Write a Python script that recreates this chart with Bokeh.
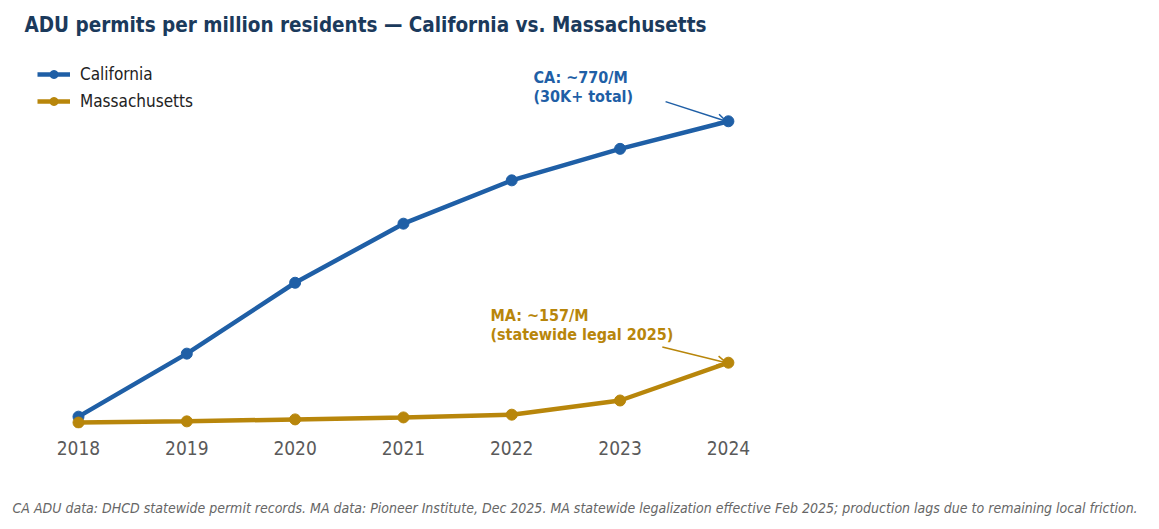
from bokeh.plotting import figure
from bokeh.models import Range1d, FixedTicker, Title, Arrow, OpenHead, Label, Legend, LegendItem
from bokeh.embed import file_html
from bokeh.resources import INLINE

years = [2018, 2019, 2020, 2021, 2022, 2023, 2024]
california = [20, 180, 360, 510, 620, 700, 770]
massachusetts = [5, 8, 13, 18, 25, 61, 157]
tick_labels = {y: str(y) for y in years}

CA_COLOR = "#1f5fa6"
MA_COLOR = "#b8860b"
COND = "DejaVu Sans Condensed"

p = figure(width=1159, height=529, output_backend="svg", toolbar_location=None,
           x_range=Range1d(2017.28, 2027.98), y_range=Range1d(-10.1, 980.2),
           min_border_left=0, min_border_right=0, min_border_top=38, min_border_bottom=0)

p.title.text = "ADU permits per million residents \u2014 California vs. Massachusetts"
p.title.text_font = COND
p.title.text_font_size = "20.5px"
p.title.text_font_style = "bold"
p.title.text_color = "#1b3a5c"
p.title.offset = 24
p.title.standoff = 3

r1 = p.line(years, california, line_color=CA_COLOR, line_width=4.5)
c1 = p.scatter(years, california, size=11, fill_color=CA_COLOR, line_color=CA_COLOR)
r2 = p.line(years, massachusetts, line_color=MA_COLOR, line_width=4.5)
c2 = p.scatter(years, massachusetts, size=11, fill_color=MA_COLOR, line_color=MA_COLOR)

legend = Legend(items=[LegendItem(label="California", renderers=[r1, c1]),
                       LegendItem(label="Massachusetts", renderers=[r2, c2])],
                location=(37, 317), padding=0, margin=0, spacing=7,
                glyph_width=33, glyph_height=20, label_height=20, label_standoff=10,
                label_text_font=COND, label_text_font_size="17px", label_text_color="#222222",
                border_line_color=None, background_fill_alpha=0)
p.add_layout(legend, "center")

p.xaxis.ticker = FixedTicker(ticks=years)
p.xaxis.major_label_overrides = tick_labels
p.xaxis.axis_line_color = None
p.xaxis.major_tick_line_color = None
p.xaxis.minor_tick_line_color = None
p.xaxis.major_label_text_font = COND
p.xaxis.major_label_text_font_size = "19px"
p.xaxis.major_label_text_color = "#5a5a5a"
p.xaxis.major_label_standoff = 6
p.xaxis.axis_label = " "
p.xaxis.axis_label_text_font_size = "20px"
p.xaxis.axis_label_standoff = 2
p.yaxis.visible = False
p.xgrid.visible = False
p.ygrid.visible = False
p.outline_line_color = None

# annotations
ca_txt = Label(x=years[-1], y=california[-1], x_offset=-195, y_offset=34,
               text="CA: ~770/M\n(30K+ total)", text_font=COND, text_font_style="bold",
               text_font_size="16px", text_color=CA_COLOR, text_baseline="middle",
               text_line_height=1.0)
p.add_layout(ca_txt)
p.add_layout(Arrow(end=OpenHead(size=9, line_color=CA_COLOR, line_width=1.5),
                   x_start=years[-1] - 0.58, y_start=california[-1] + 50,
                   x_end=years[-1] - 0.02, y_end=california[-1],
                   line_color=CA_COLOR, line_width=1.5))

ma_txt = Label(x=years[-1], y=massachusetts[-1], x_offset=-238, y_offset=38,
               text="MA: ~157/M\n(statewide legal 2025)", text_font=COND, text_font_style="bold",
               text_font_size="16px", text_color=MA_COLOR, text_baseline="middle",
               text_line_height=1.0)
p.add_layout(ma_txt)
p.add_layout(Arrow(end=OpenHead(size=9, line_color=MA_COLOR, line_width=1.5),
                   x_start=years[-1] - 0.61, y_start=massachusetts[-1] + 40,
                   x_end=years[-1] - 0.02, y_end=massachusetts[-1],
                   line_color=MA_COLOR, line_width=1.5))

footer = Title(text="CA ADU data: DHCD statewide permit records. MA data: Pioneer Institute, Dec 2025. "
                    "MA statewide legalization effective Feb 2025; production lags due to remaining local friction.",
               text_font=COND, text_font_size="14px", text_font_style="italic",
               text_color="#666666", align="left", offset=12, standoff=27)
p.add_layout(footer, "below")

open("out.html", "w").write(file_html(p, INLINE))
